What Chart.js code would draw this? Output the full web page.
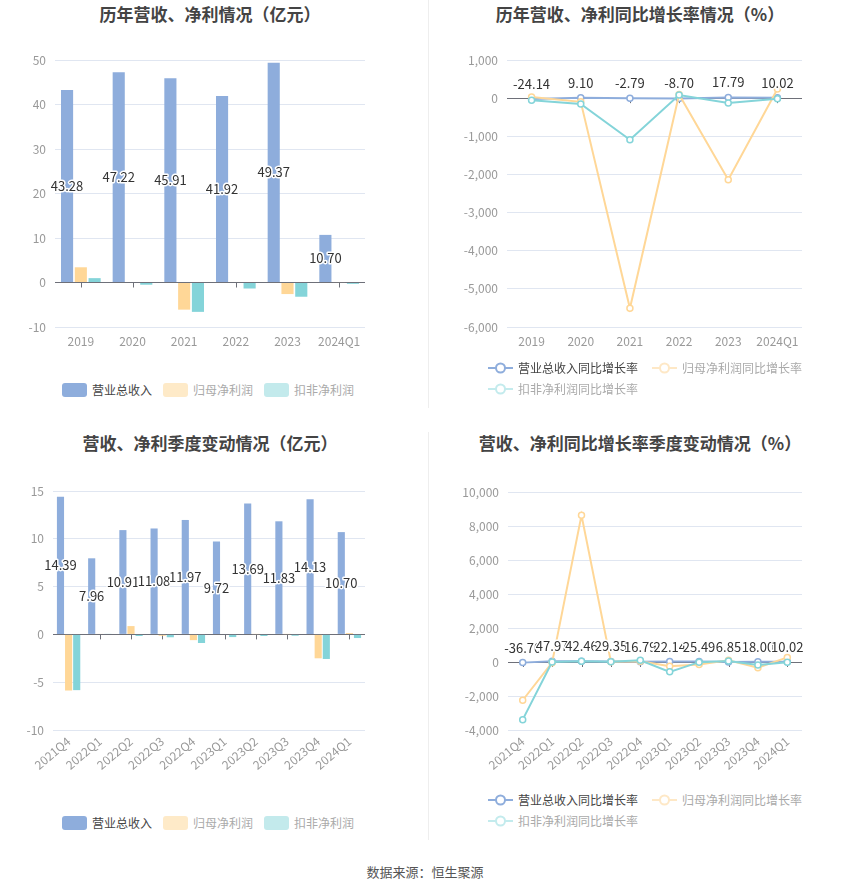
<!DOCTYPE html>
<html>
<head>
<meta charset="utf-8">
<script src="https://cdn.jsdelivr.net/npm/chart.js@4.4.0/dist/chart.umd.min.js"></script>
<style>
  body { margin: 0; width: 850px; height: 891px; background: #fff; position: relative; overflow: hidden;
         font-family: "Noto Sans CJK SC", "Noto Sans", sans-serif; }
  .title { position: absolute; font-size: 17px; font-weight: bold; color: #444; text-align: center; line-height: 20px; }
  .divider { position: absolute; left: 428px; width: 1px; background: #eeeeee; }
  canvas { position: absolute; }
  .legend { position: absolute; display: flex; align-items: center; font-size: 12px; line-height: 14px; }
  .item { display: flex; align-items: center; margin-right: 11px; color: #aaa; }
  .item.on { color: #444; }
  .swatch { width: 25px; height: 14px; border-radius: 3px; margin-right: 5px; }
  .item svg { margin-right: 5px; }
  .source { position: absolute; left: 0; width: 850px; top: 862px; text-align: center; font-size: 13px; color: #555; }
</style>
</head>
<body>

<div class="divider" style="top:0; height:408px"></div>
<div class="divider" style="top:432px; height:408px"></div>

<div class="title" style="left:0; width:420px; top:4px">历年营收、净利情况（亿元）</div>
<div class="title" style="left:430px; width:420px; top:4px">历年营收、净利同比增长率情况（%）</div>
<div class="title" style="left:0; width:420px; top:433px">营收、净利季度变动情况（亿元）</div>
<div class="title" style="left:430px; width:420px; top:433px">营收、净利同比增长率季度变动情况（%）</div>

<canvas id="yearBar" width="428" height="320" style="left:0; top:40px"></canvas>
<canvas id="yearLine" width="422" height="320" style="left:428px; top:40px"></canvas>
<canvas id="quarterBar" width="428" height="320" style="left:0; top:470px"></canvas>
<canvas id="quarterLine" width="422" height="320" style="left:428px; top:470px"></canvas>

<div class="legend" style="left:62px; top:383px">
  <div class="item on"><div class="swatch" style="background:#8eaddc"></div>营业总收入</div>
  <div class="item"><div class="swatch" style="background:#feeac8"></div>归母净利润</div>
  <div class="item"><div class="swatch" style="background:#c3eaec"></div>扣非净利润</div>
</div>
<div class="legend" style="left:62px; top:816px">
  <div class="item on"><div class="swatch" style="background:#8eaddc"></div>营业总收入</div>
  <div class="item"><div class="swatch" style="background:#feeac8"></div>归母净利润</div>
  <div class="item"><div class="swatch" style="background:#c3eaec"></div>扣非净利润</div>
</div>

<div id="legendYearLine"></div>
<div id="legendQuarterLine"></div>

<div class="source">数据来源：恒生聚源</div>

<script>
// 年度数据（亿元）
const yearCats = ["2019", "2020", "2021", "2022", "2023", "2024Q1"];
const yearRevenue = [43.28, 47.22, 45.91, 41.92, 49.37, 10.70];
const yearNetProfit = [3.42, 0.11, -6.1, 0.12, -2.6, 0.1];
const yearDeducted = [0.98, -0.5, -6.6, -1.35, -3.2, -0.3];

// 年度同比增长率（%）
const yearRevenueGrowth = [-24.14, 9.10, -2.79, -8.70, 17.79, 10.02];
const yearNetGrowth = [30, -96, -5510, 95, -2140, 240];
const yearDeductedGrowth = [-53, -155, -1090, 80, -125, -18];

// 季度数据（亿元）
const quarterCats = ["2021Q4", "2022Q1", "2022Q2", "2022Q3", "2022Q4", "2023Q1", "2023Q2", "2023Q3", "2023Q4", "2024Q1"];
const quarterRevenue = [14.39, 7.96, 10.91, 11.08, 11.97, 9.72, 13.69, 11.83, 14.13, 10.70];
const quarterNetProfit = [-5.87, 0.06, 0.87, -0.14, -0.6, -0.05, 0.03, 0.03, -2.5, 0.14];
const quarterDeducted = [-5.83, 0.04, -0.17, -0.3, -0.9, -0.28, -0.17, -0.14, -2.57, -0.38];

// 季度同比增长率（%）
const quarterRevenueGrowth = [-36.70, 47.97, 42.46, 29.35, 16.79, 22.14, 25.49, 6.85, 18.00, 10.02];
const quarterNetGrowth = [-2250, -40, 8630, 20, 40, -250, -150, 100, -340, 270];
const quarterDeductedGrowth = [-3390, 0, 40, 10, 100, -580, -10, 60, -170, -10];

// 坐标刻度
const yearBarTicks = { min: -10, max: 50, step: 10 };
const yearLineTicks = { min: -6000, max: 1000, step: 1000 };
const quarterBarTicks = { min: -10, max: 15, step: 5 };
const quarterLineTicks = { min: -4000, max: 10000, step: 2000 };

const BLUE = "#8eaddc", ORANGE = "#ffd797", TEAL = "#84d4d9";
const FONT = '"Noto Sans CJK SC", "Noto Sans", sans-serif';

// 图例（折线）
function lineLegend(id, left, top) {
    const icon = (c) => `<svg width="25" height="14"><line x1="0" y1="7" x2="25" y2="7" stroke="${c}" stroke-width="2"/><circle cx="12.5" cy="7" r="4.5" fill="#fff" stroke="${c}" stroke-width="2"/></svg>`;
    document.getElementById(id).innerHTML = `
      <div class="legend" style="left:${left}px; top:${top}px">
        <div class="item on" style="margin-right:14px">${icon(BLUE)}营业总收入同比增长率</div>
        <div class="item">${icon("#fee8c6")}归母净利润同比增长率</div>
      </div>
      <div class="legend" style="left:${left}px; top:${top + 21}px">
        <div class="item">${icon("#c3ebed")}扣非净利润同比增长率</div>
      </div>`;
}
lineLegend("legendYearLine", 488, 361);
lineLegend("legendQuarterLine", 488, 793);

// 数值标签
const valueLabels = {
    id: "valueLabels",
    afterDatasetsDraw(chart) {
        const ctx = chart.ctx;
        chart.data.datasets.forEach((ds, i) => {
            if (!ds.showLabels) return;
            const meta = chart.getDatasetMeta(i);
            meta.data.forEach((el, j) => {
                const text = ds.data[j].toFixed(2);
                const y = meta.type === "bar" ? (el.y + el.base) / 2 : el.y - 15;
                ctx.save();
                ctx.font = "13px " + FONT;
                ctx.textAlign = "center";
                ctx.textBaseline = "middle";
                ctx.lineWidth = 3;
                ctx.lineJoin = "round";
                ctx.strokeStyle = "#fff";
                ctx.strokeText(text, el.x, y);
                ctx.fillStyle = "#333";
                ctx.fillText(text, el.x, y);
                ctx.restore();
            });
        });
    },
};

// 零轴刻度线
const zeroTicks = {
    id: "zeroTicks",
    beforeDatasetsDraw(chart) {
        const ctx = chart.ctx;
        const x = chart.scales.x, y0 = chart.scales.y.getPixelForValue(0);
        ctx.save();
        ctx.strokeStyle = "#6e7079";
        ctx.lineWidth = 1;
        chart.data.labels.forEach((_, i) => {
            const px = Math.round(x.getPixelForValue(i)) + 0.5;
            ctx.beginPath();
            ctx.moveTo(px, y0);
            ctx.lineTo(px, y0 + 5);
            ctx.stroke();
        });
        ctx.restore();
    },
};

function baseOptions(t, yWidth, xHeight, padTop, padRight, rotate) {
    return {
        responsive: false,
        animation: false,
        layout: { padding: { top: padTop, right: padRight, left: 0, bottom: 0 } },
        plugins: { legend: { display: false }, tooltip: { enabled: false } },
        scales: {
            x: {
                offset: true,
                grid: { display: false, drawTicks: false },
                border: { display: false },
                ticks: {
                    color: "#999", font: { size: 12, family: FONT }, padding: rotate ? 4 : 7,
                    autoSkip: false, minRotation: rotate, maxRotation: rotate,
                },
                afterFit: (s) => { s.height = xHeight; },
            },
            y: {
                min: t.min, max: t.max,
                grid: {
                    drawTicks: false,
                    color: (c) => (c.tick && c.tick.value === 0 ? "#6e7079" : "#e0e6f1"),
                },
                border: { display: false },
                ticks: {
                    stepSize: t.step, color: "#999", font: { size: 12, family: FONT }, padding: 9,
                    callback: (v) => v.toLocaleString("en-US"),
                },
                afterFit: (s) => { s.width = yWidth; },
            },
        },
    };
}

function barChart(id, cats, rev, net, ded, t, yWidth, xHeight, padTop, padRight, rotate, catPct) {
    const common = { categoryPercentage: catPct, barPercentage: 0.88, borderWidth: 0, minBarLength: 0 };
    new Chart(document.getElementById(id), {
        type: "bar",
        data: {
            labels: cats,
            datasets: [
                { label: "营业总收入", data: rev, backgroundColor: BLUE, showLabels: true, ...common },
                { label: "归母净利润", data: net, backgroundColor: ORANGE, ...common },
                { label: "扣非净利润", data: ded, backgroundColor: TEAL, ...common },
            ],
        },
        options: baseOptions(t, yWidth, xHeight, padTop, padRight, rotate),
        plugins: [zeroTicks, valueLabels],
    });
}

function lineChart(id, cats, rev, net, ded, t, yWidth, xHeight, padTop, padRight, rotate) {
    const common = { borderWidth: 2, pointRadius: 3, pointBorderWidth: 1.5, pointBackgroundColor: "#fff", tension: 0 };
    new Chart(document.getElementById(id), {
        type: "line",
        data: {
            labels: cats,
            datasets: [
                { label: "营业总收入同比增长率", data: rev, borderColor: BLUE, pointBorderColor: BLUE, showLabels: true, order: 2, ...common },
                { label: "归母净利润同比增长率", data: net, borderColor: ORANGE, pointBorderColor: ORANGE, order: 1, ...common },
                { label: "扣非净利润同比增长率", data: ded, borderColor: TEAL, pointBorderColor: TEAL, order: 0, ...common },
            ],
        },
        options: baseOptions(t, yWidth, xHeight, padTop, padRight, rotate),
        plugins: [zeroTicks, valueLabels],
    });
}

barChart("yearBar", yearCats, yearRevenue, yearNetProfit, yearDeducted, yearBarTicks, 55, 33, 20, 63, 0, 0.8);
lineChart("yearLine", yearCats, yearRevenueGrowth, yearNetGrowth, yearDeductedGrowth, yearLineTicks, 79, 33, 20, 48, 0);
barChart("quarterBar", quarterCats, quarterRevenue, quarterNetProfit, quarterDeducted, quarterBarTicks, 53, 60, 21, 63, 40, 0.78);
lineChart("quarterLine", quarterCats, quarterRevenueGrowth, quarterNetGrowth, quarterDeductedGrowth, quarterLineTicks, 80, 60, 22, 48, 40);
</script>
</body>
</html>
